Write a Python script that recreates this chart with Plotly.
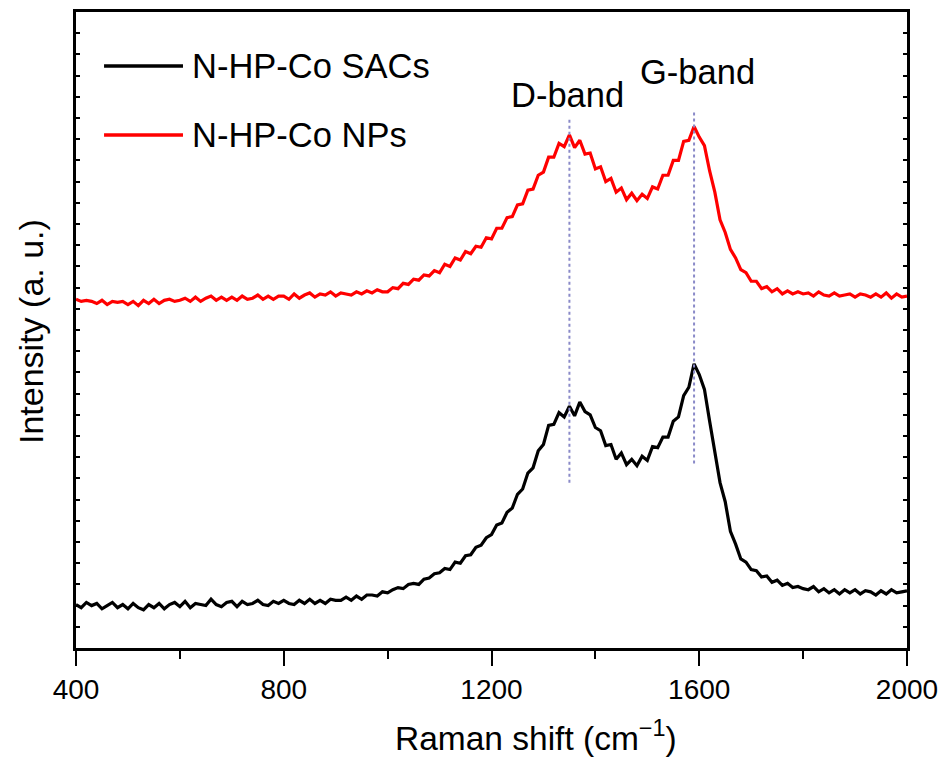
import plotly.graph_objects as go

# Raman shift grid (cm^-1), 10 cm^-1 step
shift = list(range(400, 2001, 10))

# N-HP-Co SACs intensity (a.u., offset scale)
sacs = [
    2.05, 1.90, 2.15, 2.00, 2.10, 1.85, 2.00, 2.15, 1.90, 2.05,
    1.85, 2.10, 1.90, 1.80, 2.05, 1.90, 2.10, 1.85, 2.05, 2.15,
    1.95, 2.20, 1.90, 2.10, 2.05, 2.00, 2.30, 2.05, 1.95, 2.15,
    2.20, 1.95, 2.20, 2.05, 2.10, 2.25, 2.05, 2.00, 2.20, 2.10,
    2.25, 2.10, 2.05, 2.25, 2.10, 2.30, 2.10, 2.25, 2.10, 2.30,
    2.25, 2.25, 2.40, 2.25, 2.45, 2.30, 2.50, 2.50, 2.45, 2.65,
    2.60, 2.75, 2.85, 2.80, 3.00, 3.05, 3.00, 3.25, 3.30, 3.50,
    3.55, 3.75, 3.70, 4.05, 4.00, 4.35, 4.40, 4.75, 4.85, 5.20,
    5.35, 5.80, 5.90, 6.40, 6.60, 7.25, 7.50, 8.25, 8.50, 9.30,
    9.60, 10.50, 10.55, 11.10, 10.90, 11.40, 10.95, 11.60, 11.15, 11.00,
    10.40, 10.25, 9.55, 9.60, 8.90, 9.20, 8.65, 8.90, 8.60, 9.05,
    8.85, 9.50, 9.45, 9.95, 9.95, 10.70, 10.90, 11.90, 12.30, 13.40,
    12.90, 12.20, 10.70, 9.30, 7.80, 6.90, 5.50, 4.90, 4.20, 4.05,
    3.70, 3.65, 3.35, 3.40, 3.10, 3.20, 2.95, 3.05, 2.85, 2.90,
    2.80, 2.75, 2.90, 2.65, 2.80, 2.60, 2.75, 2.55, 2.75, 2.60,
    2.75, 2.55, 2.70, 2.65, 2.50, 2.70, 2.55, 2.75, 2.60, 2.65,
    2.70,
]

# N-HP-Co NPs intensity (a.u., offset scale)
nps = [
    16.45, 16.35, 16.40, 16.35, 16.25, 16.40, 16.20, 16.35, 16.30, 16.35,
    16.20, 16.35, 16.15, 16.40, 16.25, 16.45, 16.25, 16.40, 16.45, 16.35,
    16.40, 16.50, 16.35, 16.55, 16.35, 16.50, 16.60, 16.40, 16.55, 16.40,
    16.55, 16.40, 16.60, 16.45, 16.50, 16.65, 16.45, 16.60, 16.45, 16.60,
    16.60, 16.45, 16.70, 16.50, 16.65, 16.75, 16.55, 16.70, 16.65, 16.80,
    16.60, 16.75, 16.70, 16.65, 16.80, 16.70, 16.85, 16.75, 16.90, 16.80,
    16.80, 17.00, 16.95, 17.20, 17.15, 17.40, 17.35, 17.60, 17.55, 17.80,
    17.70, 18.10, 18.00, 18.40, 18.30, 18.70, 18.60, 18.95, 18.90, 19.35,
    19.30, 19.80, 19.80, 20.30, 20.35, 20.90, 20.95, 21.60, 21.65, 22.30,
    22.45, 23.15, 23.15, 23.80, 23.65, 24.20, 23.60, 23.95, 23.30, 23.35,
    22.60, 22.70, 22.00, 22.15, 21.50, 21.70, 21.15, 21.45, 21.10, 21.40,
    21.20, 21.75, 21.65, 22.30, 22.30, 23.00, 23.00, 23.90, 23.95, 24.60,
    24.10, 23.70, 22.50, 21.50, 20.20, 19.60, 18.80, 18.40, 17.85, 17.70,
    17.30, 17.30, 16.95, 17.05, 16.80, 16.95, 16.70, 16.85, 16.70, 16.80,
    16.70, 16.75, 16.60, 16.80, 16.65, 16.60, 16.75, 16.60, 16.65, 16.70,
    16.55, 16.70, 16.65, 16.55, 16.70, 16.55, 16.75, 16.50, 16.70, 16.55,
    16.60,
]

series_names = ["N-HP-Co SACs", "N-HP-Co NPs"]
series_colors = ["#000000", "#ff0000"]

band_labels = ["D-band", "G-band"]
band_pos = [1350, 1590]
band_line_span = [(7.8, 25.0), (8.7, 25.4)]
band_label_xy = [(1346, 26.1), (1596, 27.15)]

x_ticks = [400, 800, 1200, 1600, 2000]

FONT = "Liberation Sans, Arial, sans-serif"

fig = go.Figure()
for name, ys, col in zip(series_names, [sacs, nps], series_colors):
    fig.add_trace(go.Scatter(x=shift, y=ys, mode="lines", name=name,
                             line=dict(color=col, width=3.2), showlegend=False))

# dotted band markers
for bx, (y0, y1) in zip(band_pos, band_line_span):
    fig.add_shape(type="line", x0=bx, x1=bx, y0=y0, y1=y1, xref="x", yref="y",
                  line=dict(color="#8a8ac8", width=2, dash="dot"))

for lab, (ax, ay) in zip(band_labels, band_label_xy):
    fig.add_annotation(x=ax, y=ay, xref="x", yref="y", text=lab, showarrow=False,
                       font=dict(size=34.5, color="black", family=FONT),
                       xanchor="center", yanchor="middle")

# manual legend
leg_y = [27.45, 24.2]
for name, col, ly in zip(series_names, series_colors, leg_y):
    fig.add_shape(type="line", x0=454, x1=606, y0=ly, y1=ly, xref="x", yref="y",
                  line=dict(color=col, width=3.5))
    fig.add_annotation(x=620, y=ly, xref="x", yref="y", text=name, showarrow=False,
                       font=dict(size=34.5, color="black", family=FONT),
                       xanchor="left", yanchor="middle")

# axis titles
fig.add_annotation(x=(536 - 76) / 831, y=(648 - 736) / 636, xref="paper", yref="paper",
                   text="Raman shift (cm<sup>\u22121</sup>)", showarrow=False,
                   font=dict(size=33.5, color="black", family=FONT),
                   xanchor="center", yanchor="middle")
fig.add_annotation(x=(31 - 76) / 831, y=(648 - 332) / 636, xref="paper", yref="paper",
                   text="Intensity (a. u.)", showarrow=False, textangle=-90,
                   font=dict(size=34, color="black", family=FONT),
                   xanchor="center", yanchor="middle")

fig.update_xaxes(range=[400, 2000], tickvals=x_ticks, ticktext=[str(v) for v in x_ticks],
                 ticks="outside", ticklen=15, tickwidth=2, tickcolor="black",
                 minor=dict(dtick=200, ticks="outside", ticklen=8, tickwidth=2, tickcolor="black"),
                 showline=True, linewidth=2.5, linecolor="black", mirror=True,
                 showgrid=False, zeroline=False, automargin=False,
                 tickfont=dict(size=28, color="black", family=FONT))
fig.update_yaxes(range=[0, 30], dtick=1, tick0=0, ticks="inside", ticklen=4, tickwidth=1.5,
                 tickcolor="black", showticklabels=False, automargin=False,
                 showline=True, linewidth=2.5, linecolor="black", mirror="ticks",
                 showgrid=False, zeroline=False)

fig.update_layout(width=942, height=760, margin=dict(l=76, r=35, t=12, b=112),
                  paper_bgcolor="white", plot_bgcolor="white",
                  font=dict(family=FONT, color="black"))

fig.write_html("out.html")
